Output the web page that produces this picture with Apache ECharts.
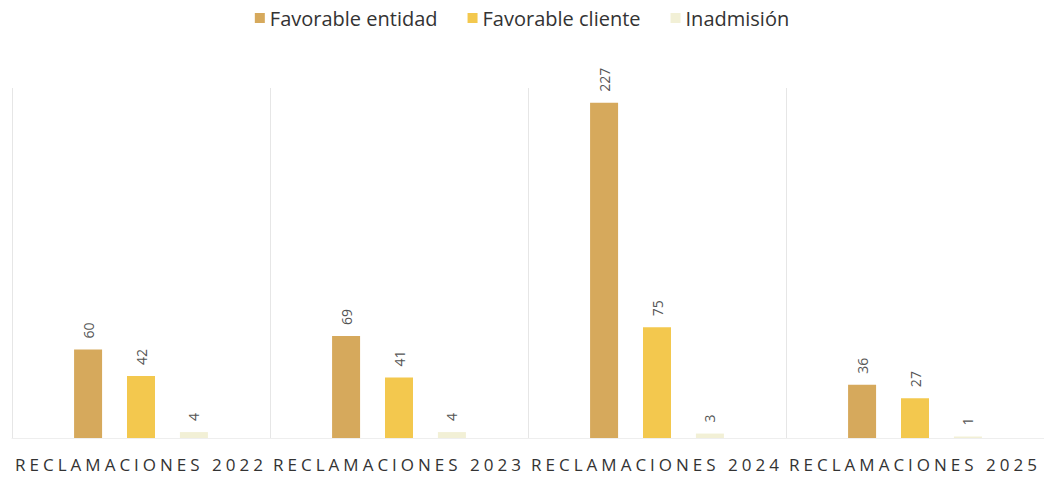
<!DOCTYPE html>
<html>
<head>
<meta charset="utf-8">
<script src="https://cdn.jsdelivr.net/npm/echarts@6/dist/echarts.min.js"></script>
<style>html,body{margin:0;padding:0;background:#fff}#c{width:1044px;height:477px}</style>
</head>
<body>
<div id="c"></div>
<script>
const categories = ['RECLAMACIONES 2022', 'RECLAMACIONES 2023', 'RECLAMACIONES 2024', 'RECLAMACIONES 2025'];
const favorableEntidad = [60, 69, 227, 36];
const favorableCliente = [42, 41, 75, 27];
const inadmision = [4, 4, 3, 1];
const seriesNames = ['Favorable entidad', 'Favorable cliente', 'Inadmisión'];

const colors = ['#D6A95C', '#F3C84E', '#F2F0D6'];
const chart = echarts.init(document.getElementById('c'), null, { renderer: 'svg' });
const lbl = {
  show: true, position: 'top', rotate: 90, align: 'left', verticalAlign: 'middle',
  distance: 11, color: '#555', fontSize: 14, fontFamily: 'Open Sans'
};
function mk(name, data, i) {
  return {
    name, type: 'bar', data, barWidth: 28, barGap: '89%',
    itemStyle: { color: colors[i] }, label: lbl
  };
}
function spaceLabels() {
  document.querySelectorAll('#c svg text').forEach(function (t) {
    if (categories.indexOf(t.textContent) >= 0) {
      t.style.letterSpacing = '4px';
    }
  });
}
chart.on('finished', spaceLabels);
chart.setOption({
  animation: false,
  textStyle: { fontFamily: 'Open Sans' },
  legend: {
    top: 3, left: 'center', itemWidth: 10, itemHeight: 10, itemGap: 30,
    icon: 'rect',
    textStyle: { fontSize: 20, color: '#333', fontFamily: 'Open Sans' },
    data: seriesNames
  },
  grid: { left: 12, width: 1038, top: 88, bottom: 39 },
  xAxis: {
    type: 'category', data: categories,
    axisLine: { show: true, lineStyle: { color: '#eeeeee' } },
    axisTick: { show: false },
    splitLine: { show: true, lineStyle: { color: '#e6e6e6' } },
    axisLabel: { color: '#333', fontSize: 17, margin: 18, fontFamily: 'Open Sans' }
  },
  yAxis: { type: 'value', min: 0, max: 237, show: false, splitLine: { show: false } },
  series: [
    mk(seriesNames[0], favorableEntidad, 0),
    mk(seriesNames[1], favorableCliente, 1),
    mk(seriesNames[2], inadmision, 2)
  ]
});
spaceLabels();
setTimeout(spaceLabels, 0);
</script>
</body>
</html>
